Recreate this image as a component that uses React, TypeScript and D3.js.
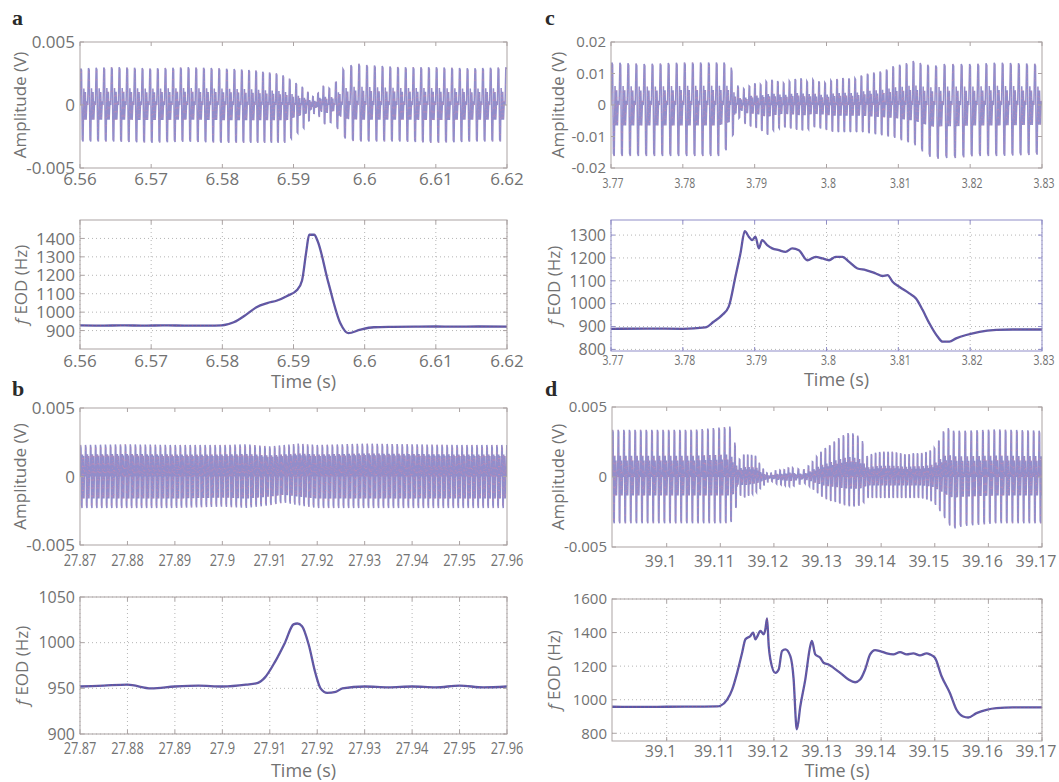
import React, { useEffect, useRef } from 'react';
import * as d3 from 'd3';

// ---- panel a : chirp around 6.59 s ----
const aTimeTicks = [6.56, 6.57, 6.58, 6.59, 6.6, 6.61, 6.62];
const aAmpTicks = [-0.005, 0, 0.005];
const aFreqTicks = [900, 1000, 1100, 1200, 1300, 1400];
const aFreqTime = [6.56, 6.563, 6.566, 6.569, 6.572, 6.575, 6.578, 6.5799, 6.5816, 6.5834, 6.5848, 6.5863, 6.5877, 6.5891, 6.5905, 6.5912, 6.5918, 6.5922, 6.5929, 6.5934, 6.5949, 6.5966, 6.5977, 6.5994, 6.6013, 6.604, 6.607, 6.61, 6.613, 6.616, 6.62];
const aFreqHz = [928, 927, 928, 927, 928, 927, 927, 928, 945, 988, 1027, 1049, 1063, 1088, 1120, 1172, 1330, 1420, 1420, 1385, 1160, 938, 886, 905, 918, 920, 921, 922, 921, 922, 921];
const aEnvTime = [6.56, 6.565, 6.57, 6.575, 6.58, 6.5844, 6.5862, 6.5877, 6.5891, 6.59, 6.5909, 6.5918, 6.5926, 6.5933, 6.594, 6.5949, 6.5956, 6.5961, 6.5968, 6.5977, 6.5989, 6.5998, 6.605, 6.61, 6.615, 6.62];
const aEnvUpper = [0.0029, 0.003, 0.0029, 0.003, 0.0029, 0.00276, 0.0026, 0.0025, 0.00224, 0.00184, 0.00158, 0.00118, 0.00066, 0.0008, 0.00158, 0.00132, 0.00145, 0.002, 0.0028, 0.0031, 0.0033, 0.0032, 0.003, 0.003, 0.0029, 0.003];
const aEnvLower = [-0.0029, -0.0029, -0.003, -0.0029, -0.003, -0.003, -0.003, -0.003, -0.003, -0.0025, -0.0021, -0.0017, -0.0008, -0.0005, -0.00145, -0.0016, -0.0012, -0.0018, -0.0025, -0.0028, -0.0029, -0.0029, -0.0029, -0.003, -0.0029, -0.0029];

// ---- panel b : small rise around 27.915 s ----
const bTimeTicks = [27.87, 27.88, 27.89, 27.9, 27.91, 27.92, 27.93, 27.94, 27.95, 27.96];
const bAmpTicks = [-0.005, 0, 0.005];
const bFreqTicks = [900, 950, 1000, 1050];
const bFreqTime = [27.87, 27.875, 27.88, 27.885, 27.89, 27.895, 27.9, 27.905, 27.9075, 27.909, 27.9111, 27.9132, 27.915, 27.9158, 27.9168, 27.9182, 27.9196, 27.9207, 27.9221, 27.9239, 27.9253, 27.93, 27.935, 27.94, 27.945, 27.95, 27.955, 27.96];
const bFreqHz = [952, 953, 954, 950, 952, 953, 952, 954, 956, 962, 979, 1000, 1020, 1021, 1018, 998, 967, 950, 945, 946, 950, 952, 951, 952, 951, 953, 951, 952];
const bEnvTime = [27.87, 27.88, 27.89, 27.9, 27.905, 27.91, 27.913, 27.916, 27.92, 27.93, 27.94, 27.95, 27.96];
const bEnvUpper = [0.0023, 0.00235, 0.0023, 0.0023, 0.00235, 0.0022, 0.0023, 0.0024, 0.0023, 0.0024, 0.00235, 0.0023, 0.0023];
const bEnvLower = [-0.0023, -0.0023, -0.0023, -0.0022, -0.0023, -0.0021, -0.0019, -0.0021, -0.0023, -0.0023, -0.0023, -0.0023, -0.0023];

// ---- panel c : long rise at 3.788 s ----
const cTimeTicks = [3.77, 3.78, 3.79, 3.8, 3.81, 3.82, 3.83];
const cAmpTicks = [-0.02, -0.01, 0, 0.01, 0.02];
const cFreqTicks = [800, 900, 1000, 1100, 1200, 1300];
const cFreqTime = [3.77, 3.775, 3.78, 3.78313, 3.78429, 3.78546, 3.78639, 3.78732, 3.78802, 3.78862, 3.78918, 3.78965, 3.79011, 3.79058, 3.79104, 3.79174, 3.79244, 3.79337, 3.7943, 3.79523, 3.79616, 3.79733, 3.79849, 3.79942, 3.80035, 3.80128, 3.80222, 3.80315, 3.80431, 3.80547, 3.80687, 3.8078, 3.8085, 3.8092, 3.81013, 3.81153, 3.81246, 3.81339, 3.81432, 3.81548, 3.81618, 3.81711, 3.81804, 3.81944, 3.8213, 3.82363, 3.82596, 3.83];
const cFreqHz = [890, 891, 890, 896, 921, 950, 987, 1118, 1220, 1317, 1293, 1278, 1293, 1242, 1278, 1256, 1242, 1234, 1227, 1242, 1234, 1190, 1205, 1198, 1190, 1205, 1205, 1183, 1154, 1147, 1132, 1121, 1125, 1096, 1074, 1045, 1023, 972, 914, 855, 834, 834, 848, 863, 877, 885, 887, 887];
const cEnvTime = [3.77, 3.775, 3.78, 3.785, 3.78653, 3.78723, 3.78793, 3.78886, 3.78979, 3.79073, 3.79166, 3.79259, 3.79399, 3.79538, 3.79632, 3.79725, 3.79818, 3.79958, 3.80097, 3.80237, 3.80377, 3.80517, 3.80656, 3.80796, 3.80936, 3.81075, 3.81215, 3.81355, 3.81495, 3.81634, 3.81821, 3.82054, 3.8238, 3.83];
const cEnvUpper = [0.0135, 0.013, 0.0135, 0.0135, 0.0135, 0.0081, 0.0049, 0.0054, 0.007, 0.0065, 0.0076, 0.0081, 0.007, 0.0081, 0.0086, 0.0076, 0.0081, 0.007, 0.0081, 0.0086, 0.0083, 0.0097, 0.0103, 0.0108, 0.0124, 0.013, 0.014, 0.013, 0.0124, 0.013, 0.013, 0.013, 0.0135, 0.013];
const cEnvLower = [-0.0162, -0.0162, -0.0162, -0.0162, -0.0135, -0.0076, -0.0038, -0.0065, -0.007, -0.0076, -0.0097, -0.0081, -0.007, -0.0076, -0.0081, -0.0081, -0.007, -0.0076, -0.0086, -0.0086, -0.0086, -0.0086, -0.0092, -0.0097, -0.0103, -0.0114, -0.0124, -0.0151, -0.0173, -0.0168, -0.0168, -0.0162, -0.0162, -0.0157];

// ---- panel d : complex chirp at 39.12 s ----
const dTimeTicks = [39.1, 39.11, 39.12, 39.13, 39.14, 39.15, 39.16, 39.17];
const dAmpTicks = [-0.005, 0, 0.005];
const dFreqTicks = [800, 1000, 1200, 1400, 1600];
const dFreqTime = [39.0898, 39.095, 39.1, 39.105, 39.10942, 39.11004, 39.11128, 39.11221, 39.11314, 39.11407, 39.11469, 39.11562, 39.11612, 39.11655, 39.11686, 39.11748, 39.1181, 39.11841, 39.11872, 39.11903, 39.11934, 39.12027, 39.12089, 39.12151, 39.12213, 39.12306, 39.12368, 39.12418, 39.1243, 39.12492, 39.12585, 39.12678, 39.12709, 39.12771, 39.12864, 39.12926, 39.13019, 39.13112, 39.13236, 39.13391, 39.13515, 39.13608, 39.13701, 39.13794, 39.13887, 39.1398, 39.14104, 39.14228, 39.14352, 39.14476, 39.146, 39.14724, 39.14848, 39.1491, 39.15003, 39.15127, 39.15282, 39.15406, 39.1553, 39.15623, 39.15778, 39.15964, 39.1615, 39.1646, 39.17];
const dFreqHz = [958, 957, 958, 959, 960, 964, 1000, 1060, 1160, 1280, 1360, 1380, 1400, 1360, 1375, 1410, 1390, 1420, 1484, 1320, 1240, 1160, 1180, 1290, 1300, 1260, 1120, 840, 824, 960, 1120, 1320, 1350, 1270, 1250, 1220, 1210, 1190, 1160, 1120, 1104, 1120, 1180, 1270, 1296, 1290, 1276, 1270, 1284, 1270, 1276, 1264, 1276, 1270, 1250, 1140, 1040, 940, 900, 894, 920, 940, 950, 954, 954];
const dEnvTime = [39.0898, 39.095, 39.1, 39.105, 39.11182, 39.11257, 39.11338, 39.11431, 39.11556, 39.1168, 39.11742, 39.11867, 39.11929, 39.12054, 39.12178, 39.12302, 39.12427, 39.12551, 39.12676, 39.128, 39.12925, 39.13049, 39.13174, 39.13298, 39.13422, 39.13547, 39.1364, 39.13734, 39.13858, 39.13983, 39.14107, 39.14231, 39.14356, 39.1448, 39.14605, 39.14729, 39.14854, 39.14978, 39.15072, 39.15165, 39.15258, 39.15352, 39.15538, 39.1616, 39.17];
const dEnvUpper = [0.00337, 0.00337, 0.00337, 0.00337, 0.0036, 0.0027, 0.0012, 0.0016, 0.0016, 0.0015, 0.00085, 0.0003, 0.00025, 0.0005, 0.0005, 0.0007, 0.0006, 0.0005, 0.0009, 0.0015, 0.002, 0.0023, 0.0027, 0.003, 0.0032, 0.003, 0.0027, 0.0015, 0.0017, 0.0018, 0.0018, 0.0018, 0.0017, 0.0016, 0.0017, 0.0017, 0.0018, 0.002, 0.0026, 0.0033, 0.0035, 0.0033, 0.0033, 0.0034, 0.0033];
const dEnvLower = [-0.0033, -0.0033, -0.0033, -0.0033, -0.0033, -0.003, -0.0012, -0.0015, -0.0013, -0.0011, -0.00085, -0.0004, -0.00025, -0.0005, -0.0006, -0.0007, -0.0006, -0.0004, -0.0007, -0.0011, -0.0015, -0.0017, -0.0018, -0.002, -0.0021, -0.0021, -0.002, -0.0015, -0.0015, -0.0015, -0.0015, -0.0015, -0.0015, -0.0015, -0.0015, -0.0015, -0.0016, -0.0018, -0.0023, -0.0028, -0.0034, -0.0037, -0.0035, -0.0033, -0.0033];

// shape of one EOD cycle, as fraction of the envelope (positive -> upper, negative -> lower)
const pulseShape = [0, 1, 0.95, -0.95, -1, 0.45, -0.4, 0.35, -0.4, 0.1];
const densePulseShape = [0, 1, 0.9, -0.9, -1, 0.7, -0.7, 0.65, -0.7, 0.3];

const FONT = '"Open Sans", "DejaVu Sans", sans-serif';
const TEXT = '#727272';
const BOX = '#aba3a3';
const LINE = '#5b58a6';
const TRACE = '#928dca';

// builds the EOD pulse train: one cycle per 1/fEOD, scaled by the envelope
const pulseTrain = (freqT, freqHz, envT, envUp, envLo, shape, t0, t1) => {
  const f = d3.scaleLinear().domain(freqT).range(freqHz).clamp(true);
  const up = d3.scaleLinear().domain(envT).range(envUp).clamp(true);
  const lo = d3.scaleLinear().domain(envT).range(envLo).clamp(true);
  const n = shape.length;
  const steps = 40000;
  const dt = (t1 - t0) / steps;
  const pts: [number, number][] = [];
  let phase = 0;
  let k = 0;
  for (let i = 0; i <= steps; i++) {
    const t = t0 + i * dt;
    while (phase * n >= k) {
      const s = shape[k % n];
      pts.push([t, s >= 0 ? s * up(t) : -s * lo(t)]);
      k++;
    }
    phase += f(t) * dt;
  }
  return pts;
};

const freqSeries = (ts, hz) => ts.map((t, i) => [t, hz[i]] as [number, number]);

const panels = [
  // a
  { id: 'aA', letter: 'a', letterX: 12, letterY: 25, left: 80, right: 507, top: 42, bottom: 168,
    xDomain: [6.56, 6.62], yDomain: [-0.005, 0.005], xTicks: aTimeTicks, yTicks: aAmpTicks,
    kind: 'amp', data: () => pulseTrain(aFreqTime, aFreqHz, aEnvTime, aEnvUpper, aEnvLower, pulseShape, 6.56, 6.62),
    yLabelX: 20, xFont: 17, xScale: 1, xGap: 17, xShift: 0, yFont: 17 },
  { id: 'aF', left: 80, right: 507, top: 220, bottom: 349,
    xDomain: [6.56, 6.62], yDomain: [800, 1500], xTicks: aTimeTicks, yTicks: aFreqTicks,
    kind: 'freq', data: () => freqSeries(aFreqTime, aFreqHz),
    yLabelX: 21, xFont: 17, xScale: 1, xGap: 18, xShift: 0, yFont: 17, timeY: 388 },
  // b
  { id: 'bA', letter: 'b', letterX: 12, letterY: 396, left: 80, right: 507, top: 408, bottom: 545,
    xDomain: [27.87, 27.96], yDomain: [-0.005, 0.005], xTicks: bTimeTicks, yTicks: bAmpTicks,
    kind: 'amp', data: () => pulseTrain(bFreqTime, bFreqHz, bEnvTime, bEnvUpper, bEnvLower, densePulseShape, 27.87, 27.96),
    yLabelX: 20, xFont: 16, xScale: 0.8, xGap: 21, xShift: 0, yFont: 17 },
  { id: 'bF', left: 80, right: 507, top: 597, bottom: 734,
    xDomain: [27.87, 27.96], yDomain: [900, 1050], xTicks: bTimeTicks, yTicks: bFreqTicks,
    kind: 'freq', data: () => freqSeries(bFreqTime, bFreqHz),
    yLabelX: 22, xFont: 16, xScale: 0.8, xGap: 20, xShift: 0, yFont: 16, timeY: 777 },
  // c
  { id: 'cA', letter: 'c', letterX: 545, letterY: 25, left: 611, right: 1042, top: 42, bottom: 168,
    xDomain: [3.77, 3.83], yDomain: [-0.02, 0.02], xTicks: cTimeTicks, yTicks: cAmpTicks,
    kind: 'amp', data: () => pulseTrain(cFreqTime, cFreqHz, cEnvTime, cEnvUpper, cEnvLower, pulseShape, 3.77, 3.83),
    yLabelX: 558, xFont: 15, xScale: 0.7, xGap: 20, xShift: 2, yFont: 15 },
  { id: 'cF', left: 611, right: 1042, top: 220, bottom: 351, boxColor: '#908dc8',
    xDomain: [3.77, 3.83], yDomain: [793, 1366], xTicks: cTimeTicks, yTicks: cFreqTicks,
    kind: 'freq', data: () => freqSeries(cFreqTime, cFreqHz),
    yLabelX: 554, xFont: 15, xScale: 0.7, xGap: 14, xShift: 2, yFont: 16, timeY: 386 },
  // d
  { id: 'dA', letter: 'd', letterX: 545, letterY: 396, left: 612, right: 1042, top: 407, bottom: 547,
    xDomain: [39.0898, 39.17], yDomain: [-0.005, 0.005], xTicks: dTimeTicks, yTicks: dAmpTicks,
    kind: 'amp', data: () => pulseTrain(dFreqTime, dFreqHz, dEnvTime, dEnvUpper, dEnvLower, pulseShape, 39.0898, 39.17),
    yLabelX: 558, xFont: 16, xScale: 1, xGap: 20, xShift: -6, yFont: 15 },
  { id: 'dF', left: 612, right: 1042, top: 599, bottom: 741,
    xDomain: [39.0898, 39.17], yDomain: [754, 1600], xTicks: dTimeTicks, yTicks: dFreqTicks,
    kind: 'freq', data: () => freqSeries(dFreqTime, dFreqHz),
    yLabelX: 554, xFont: 16, xScale: 1, xGap: 16, xShift: -6, yFont: 15, timeY: 777 },
];

const drawPanel = (svg, p) => {
  const x = d3.scaleLinear().domain(p.xDomain).range([p.left, p.right]);
  const y = d3.scaleLinear().domain(p.yDomain).range([p.bottom, p.top]);
  const g = svg.append('g');
  const boxColor = p.boxColor || BOX;

  svg.append('clipPath').attr('id', 'clip-' + p.id)
    .append('rect')
    .attr('x', p.left).attr('y', p.top)
    .attr('width', p.right - p.left).attr('height', p.bottom - p.top);

  // dotted grid on the frequency panels
  if (p.kind === 'freq') {
    g.selectAll('.gx').data(p.xTicks).enter().append('line')
      .attr('x1', d => x(d)).attr('x2', d => x(d))
      .attr('y1', p.top).attr('y2', p.bottom)
      .attr('stroke', '#b5b5b5').attr('stroke-dasharray', '1,3');
    g.selectAll('.gy').data(p.yTicks).enter().append('line')
      .attr('x1', p.left).attr('x2', p.right)
      .attr('y1', d => y(d)).attr('y2', d => y(d))
      .attr('stroke', '#b5b5b5').attr('stroke-dasharray', '1,3');
  }

  const line = d3.line<[number, number]>().x(d => x(d[0])).y(d => y(d[1]));
  const pts = p.data();
  const trace = g.append('g').attr('clip-path', `url(#clip-${p.id})`);
  if (p.kind === 'amp') {
    trace.append('path').attr('d', line(pts))
      .attr('fill', 'none').attr('stroke', TRACE).attr('stroke-width', 1.5);
    trace.append('path').attr('d', line(pts))
      .attr('fill', 'none').attr('stroke', '#e08aa6').attr('stroke-width', 1)
      .attr('stroke-dasharray', '1,7').attr('opacity', 0.45);
  } else {
    const smooth = d3.line<[number, number]>().x(d => x(d[0])).y(d => y(d[1])).curve(d3.curveMonotoneX);
    trace.append('path').attr('d', smooth(pts))
      .attr('fill', 'none').attr('stroke', LINE).attr('stroke-width', 2.3)
      .attr('stroke-linejoin', 'round');
    trace.append('path').attr('d', smooth(pts))
      .attr('fill', 'none').attr('stroke', '#c8506e').attr('stroke-width', 0.9)
      .attr('stroke-dasharray', '1,3').attr('opacity', 0.6);
  }

  // box and inward ticks
  g.append('rect')
    .attr('x', p.left).attr('y', p.top)
    .attr('width', p.right - p.left).attr('height', p.bottom - p.top)
    .attr('fill', 'none').attr('stroke', boxColor);
  p.xTicks.forEach(t => {
    g.append('line').attr('x1', x(t)).attr('x2', x(t)).attr('y1', p.bottom).attr('y2', p.bottom - 4).attr('stroke', boxColor);
    g.append('line').attr('x1', x(t)).attr('x2', x(t)).attr('y1', p.top).attr('y2', p.top + 4).attr('stroke', boxColor);
  });
  p.yTicks.forEach(t => {
    g.append('line').attr('x1', p.left).attr('x2', p.left + 4).attr('y1', y(t)).attr('y2', y(t)).attr('stroke', boxColor);
    g.append('line').attr('x1', p.right).attr('x2', p.right - 4).attr('y1', y(t)).attr('y2', y(t)).attr('stroke', boxColor);
  });

  // tick labels
  g.selectAll('.xl').data(p.xTicks).enter().append('text')
    .attr('transform', d => `translate(${x(d) + p.xShift},${p.bottom + p.xGap}) scale(${p.xScale},1)`)
    .attr('text-anchor', 'middle')
    .attr('font-family', FONT).attr('font-size', p.xFont).attr('fill', TEXT)
    .text(d => String(d));
  g.selectAll('.yl').data(p.yTicks).enter().append('text')
    .attr('x', p.left - 5).attr('y', d => y(d)).attr('dy', '0.36em')
    .attr('text-anchor', 'end')
    .attr('font-family', FONT).attr('font-size', p.yFont).attr('fill', TEXT)
    .text(d => String(d));

  // axis titles
  const yl = g.append('text')
    .attr('transform', `translate(${p.yLabelX},${(p.top + p.bottom) / 2}) rotate(-90)`)
    .attr('dy', '0.36em')
    .attr('text-anchor', 'middle')
    .attr('font-family', FONT).attr('font-size', 17).attr('fill', TEXT);
  if (p.kind === 'amp') {
    yl.text('Amplitude (V)');
  } else {
    yl.append('tspan').attr('font-style', 'italic').text('f');
    yl.append('tspan').text(' EOD (Hz)');
  }
  if (p.timeY) {
    g.append('text')
      .attr('x', (p.left + p.right) / 2 + 10).attr('y', p.timeY)
      .attr('text-anchor', 'middle')
      .attr('font-family', FONT).attr('font-size', 18).attr('fill', TEXT)
      .text('Time (s)');
  }
  if (p.letter) {
    g.append('text')
      .attr('x', p.letterX).attr('y', p.letterY)
      .attr('font-family', '"Liberation Serif", "DejaVu Serif", serif')
      .attr('font-weight', 'bold').attr('font-size', 22).attr('fill', '#2a2a2a')
      .text(p.letter);
  }
};

const App = () => {
  const svgRef = useRef(null);

  useEffect(() => {
    document.body.style.margin = '0';
    const svg = d3.select(svgRef.current);
    svg.selectAll('*').remove();
    panels.forEach(p => drawPanel(svg, p));
  }, []);

  return <svg ref={svgRef} width={1059} height={782} style={{ display: 'block', background: '#fff' }} />;
};

export default App;
